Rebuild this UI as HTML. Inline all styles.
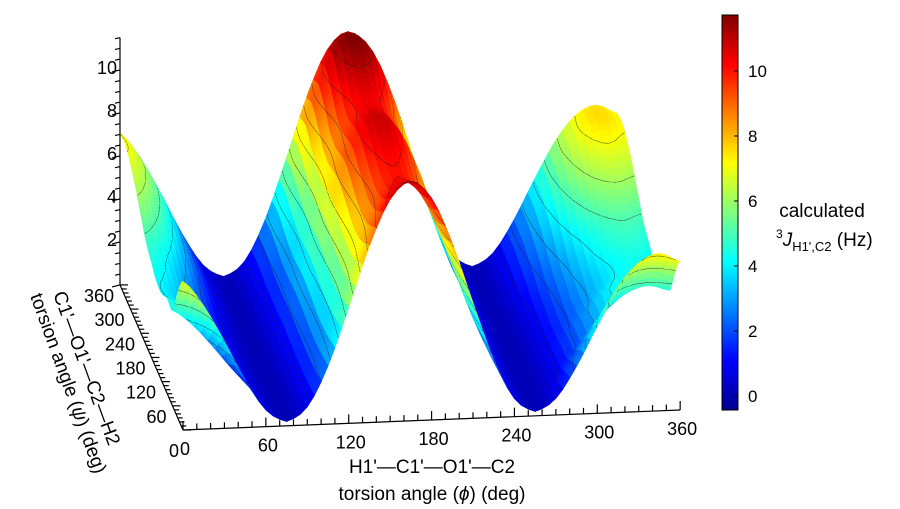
<!DOCTYPE html>
<html><head><meta charset="utf-8"><style>
body{margin:0;background:#fff;}
svg{display:block;font-family:"Liberation Sans",sans-serif;}
</style></head><body>
<svg id="chart" width="900" height="509" viewBox="0 0 900 509">
<defs>
<linearGradient id="jet" x1="0" y1="1" x2="0" y2="0">
<stop offset="0" stop-color="#00008f"/><stop offset="0.125" stop-color="#0000ff"/>
<stop offset="0.375" stop-color="#00ffff"/><stop offset="0.625" stop-color="#ffff00"/>
<stop offset="0.875" stop-color="#ff0000"/><stop offset="1" stop-color="#800000"/>
</linearGradient>
</defs>
<g id="surface"></g>
<g id="axes" stroke="#000" stroke-width="1.2" fill="none"></g>
<g id="labels" font-size="18" fill="#000"></g>
<rect x="722" y="15" width="16" height="395" fill="url(#jet)" stroke="#000" stroke-width="1"/>
<g id="cbticks" font-size="17"></g>
<text x="822" y="217" font-size="19" text-anchor="middle">calculated</text>
<text x="776" y="246" font-size="19"><tspan font-size="12" dy="-8">3</tspan><tspan font-style="italic" dy="8">J</tspan><tspan font-size="13" dy="5">H1',C2</tspan><tspan dy="-5"> (Hz)</tspan></text>
<text x="432" y="473" font-size="19" text-anchor="middle">H1'—C1'—O1'—C2</text>
<text x="432" y="500" font-size="19" text-anchor="middle">torsion angle (<tspan font-style="italic">ϕ</tspan>) (deg)</text>
<text transform="translate(53,294) rotate(70)" font-size="19">C1'—O1'—C2—H2</text>
<text transform="translate(30,296) rotate(70)" font-size="19">torsion angle (<tspan font-style="italic">ψ</tspan>) (deg)</text>
</svg>
<script>
// central hill (phi ~165) and edge hill (phi ~345), sampled every 15 deg of phi
const phiHillA=[0,0,0,0,0,0,0.67,2.63,5.46,8.42,10.66,11.5,10.66,8.42,5.46,2.63,0.67,0,0,0,0,0,0,0,0];
const phiHillB=[7.06,5.83,4.05,2.13,0.60,0,0,0,0,0,0,0,0,0,0,0,0,0,0.60,2.13,4.05,5.83,7.06,7.5,7.06];
// psi scaling of each hill, sampled every 30 deg of psi
const psiScaleA=[0.95,0.9,0.86,0.85,0.87,0.9,0.92,0.9,0.88,0.9,0.96,1,0.97];
const psiScaleB=[0.95,0.8,0.6,0.6,0.55,0.55,0.6,0.65,0.75,0.85,0.93,0.98,0.97];
const psiOffset=[0.2,0.2,0.2,0.2,0.2,0.2,0.2,0.2,0.2,0.2,0.2,0.2,0.2];
const xTicks=[0,60,120,180,240,300,360];
const yTicks=[60,120,180,240,300,360];
const zTicks=[2,4,6,8,10];
const cbTicks=[0,2,4,6,8,10];
const NS="http://www.w3.org/2000/svg";
function P(phi,psi,z){return [183+phi*1.381-psi*0.175, 430-phi*0.0556-psi*0.403-z*21.5];}
function cr(a,i,t){const n=a.length;const g=k=>a[Math.max(0,Math.min(n-1,k))];
 const p0=g(i-1),p1=g(i),p2=g(i+1),p3=g(i+2);
 return 0.5*((2*p1)+(-p0+p2)*t+(2*p0-5*p1+4*p2-p3)*t*t+(-p0+3*p1-3*p2+p3)*t*t*t);}
function sample(arr,step,v){const f=v/step;let i=Math.floor(f);if(i>=arr.length-1)i=arr.length-2;return cr(arr,i,f-i);}
function J(phi,psi){return Math.max(0,sample(phiHillA,15,phi))*sample(psiScaleA,30,psi)+Math.max(0,sample(phiHillB,15,phi))*sample(psiScaleB,30,psi)+sample(psiOffset,30,psi);}
function jet(v){const t=Math.max(0,Math.min(1,(v+0.4)/12));
 const r=Math.max(0,Math.min(1,1.5-Math.abs(4*t-3))),g=Math.max(0,Math.min(1,1.5-Math.abs(4*t-2))),b=Math.max(0,Math.min(1,1.5-Math.abs(4*t-1)));
 return `rgb(${Math.round(r*255)},${Math.round(g*255)},${Math.round(b*255)})`;}
const surf=document.getElementById('surface');
const NP=72,NQ=48;
let html='';
const f1=v=>v.toFixed(1);
for(let j=NQ-1;j>=0;j--){for(let i=NP-1;i>=0;i--){
 const p0=i*360/NP,p1=(i+1)*360/NP,q0=j*360/NQ,q1=(j+1)*360/NQ;
 const z00=J(p0,q0),z10=J(p1,q0),z11=J(p1,q1),z01=J(p0,q1);
 const corners=[[p0,q0,z00],[p1,q0,z10],[p1,q1,z11],[p0,q1,z01]];
 const pts=corners.map(c=>P(c[0],c[1],c[2])).map(p=>f1(p[0])+','+f1(p[1])).join(' ');
 const c=jet((z00+z10+z11+z01)/4);
 html+=`<polygon points="${pts}" fill="${c}" stroke="${c}" stroke-width="0.6"/>`;
 // contour lines through this cell
 for(let L=1;L<=11;L++){
  const cross=[];
  for(let e=0;e<4;e++){const A=corners[e],B=corners[(e+1)%4];
   if((A[2]-L)*(B[2]-L)<0){const t=(L-A[2])/(B[2]-A[2]);cross.push(P(A[0]+(B[0]-A[0])*t,A[1]+(B[1]-A[1])*t,L));}}
  if(cross.length>=2){html+=`<line x1="${f1(cross[0][0])}" y1="${f1(cross[0][1])}" x2="${f1(cross[1][0])}" y2="${f1(cross[1][1])}" stroke="#222" stroke-width="0.6" stroke-opacity="0.7"/>`;}
 }
}}
surf.innerHTML=html;
const ax=document.getElementById('axes'),lb=document.getElementById('labels');
function line(x1,y1,x2,y2,name){const l=document.createElementNS(NS,'line');l.setAttribute('x1',x1);l.setAttribute('y1',y1);l.setAttribute('x2',x2);l.setAttribute('y2',y2);
 
 
 ax.appendChild(l);}
function text(x,y,s,anchor,name,parent){const t=document.createElementNS(NS,'text');t.setAttribute('x',x);t.setAttribute('y',y);t.setAttribute('text-anchor',anchor);t.textContent=s;
 
 
 (parent||lb).appendChild(t);}
let a=P(0,0,0),b=P(360,0,0);line(a[0],a[1],b[0],b[1],'x-axis-line');
b=P(0,360,0);line(a[0],a[1],b[0],b[1],'y-axis-line');
let c=P(0,360,11.5);line(b[0],b[1],c[0],c[1],'z-axis-line');
for(let v=0;v<=360;v+=10){const p=P(v,0,0);const big=v%60==0;line(p[0],p[1],p[0],p[1]-(big?9:6),'x-tick');
 const q=P(0,v,0);line(q[0],q[1],q[0]+(big?8:5),q[1],'y-tick');}
for(let z=0;z<=11.5;z+=0.5){const p=P(0,360,z);line(p[0],p[1],p[0]-(z%2==0?8:5),p[1]+(z%2==0?2:1),'z-tick');}
xTicks.forEach(v=>{const p=P(v,0,0);text(p[0]+2,p[1]+25,v,'middle','x-tick-label');});
text(179,457,'0','end','y-tick-label');
yTicks.forEach(v=>{const p=P(0,v,0);text(p[0]-6,p[1]+17,v,'end','y-tick-label');});
zTicks.forEach(v=>{const p=P(0,360,v);text(p[0]-3,p[1]+4,v,'end','z-tick-label');});
const cb=document.getElementById('cbticks');
cbTicks.forEach(v=>{const y=396-v*32.5;
 const l=document.createElementNS(NS,'line');l.setAttribute('x1',734);l.setAttribute('x2',738);l.setAttribute('y1',y);l.setAttribute('y2',y);l.setAttribute('stroke','#000');
 
 
 cb.appendChild(l);
 text(748,y+6,v,'start','colorbar-tick-label',cb);});
</script>
</body></html>
